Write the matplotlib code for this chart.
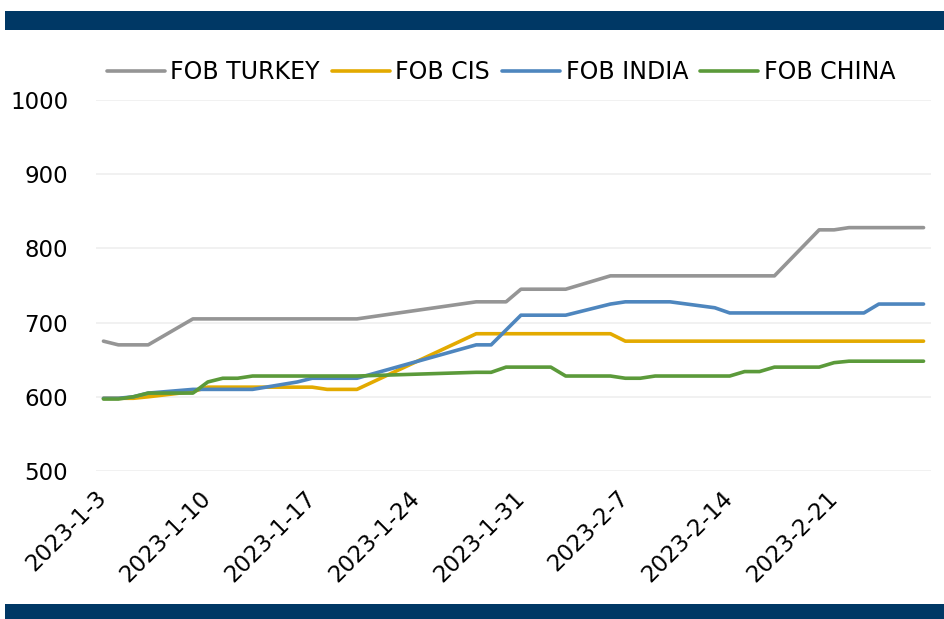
import matplotlib
matplotlib.use("Agg")
import matplotlib.pyplot as plt
import matplotlib.dates as mdates
from matplotlib.patches import Rectangle
import pandas as pd

dates = ["2023-01-03", "2023-01-04", "2023-01-05", "2023-01-06", "2023-01-09",
         "2023-01-10", "2023-01-11", "2023-01-12", "2023-01-13", "2023-01-16",
         "2023-01-17", "2023-01-18", "2023-01-19", "2023-01-20", "2023-01-28",
         "2023-01-29", "2023-01-30", "2023-01-31", "2023-02-01", "2023-02-02",
         "2023-02-03", "2023-02-06", "2023-02-07", "2023-02-08", "2023-02-09",
         "2023-02-10", "2023-02-13", "2023-02-14", "2023-02-15", "2023-02-16",
         "2023-02-17", "2023-02-20", "2023-02-21", "2023-02-22", "2023-02-23",
         "2023-02-24", "2023-02-27"]

fob_turkey = [675, 670, 670, 670, 705, 705, 705, 705, 705, 705, 705, 705, 705, 705,
              728, 728, 728, 745, 745, 745, 745, 763, 763, 763, 763, 763, 763, 763,
              763, 763, 763, 825, 825, 828, 828, 828, 828]
fob_cis = [598, 598, 598, 600, 607, 613, 613, 613, 613, 613, 613, 610, 610, 610,
           685, 685, 685, 685, 685, 685, 685, 685, 675, 675, 675, 675, 675, 675,
           675, 675, 675, 675, 675, 675, 675, 675, 675]
fob_india = [598, 598, 600, 605, 610, 610, 610, 610, 610, 620, 625, 625, 625, 625,
             670, 670, 690, 710, 710, 710, 710, 725, 728, 728, 728, 728, 720, 713,
             713, 713, 713, 713, 713, 713, 713, 725, 725]
fob_china = [597, 597, 600, 605, 605, 620, 625, 625, 628, 628, 628, 628, 628, 628,
             633, 633, 640, 640, 640, 640, 628, 628, 625, 625, 628, 628, 628, 628,
             634, 634, 640, 640, 646, 648, 648, 648, 648]

series_names = ["FOB TURKEY", "FOB CIS", "FOB INDIA", "FOB CHINA"]
series_colors = ["#959595", "#E3AA00", "#4E86BE", "#5B9A3A"]

tick_dates = ["2023-01-03", "2023-01-10", "2023-01-17", "2023-01-24",
              "2023-01-31", "2023-02-07", "2023-02-14", "2023-02-21"]
tick_labels = ["2023-1-3", "2023-1-10", "2023-1-17", "2023-1-24",
               "2023-1-31", "2023-2-7", "2023-2-14", "2023-2-21"]
y_ticks = [500, 600, 700, 800, 900, 1000]

plt.rcParams["font.family"] = ["DejaVu Sans"]

W, H = 944, 619
fig = plt.figure(figsize=(W / 100, H / 100), dpi=100)
fig.patch.set_facecolor("white")

ax = fig.add_axes([96 / W, 1 - 471 / H, (931 - 96) / W, (471 - 100) / H])

x = pd.to_datetime(dates)
handles = []
for vals, name, col in zip([fob_turkey, fob_cis, fob_india, fob_china],
                           series_names, series_colors):
    h, = ax.plot(x, vals, color=col, lw=2.6, label=name,
                 solid_capstyle="round", solid_joinstyle="round", zorder=3)
    handles.append(h)

ax.set_ylim(500, 1000)
ax.set_yticks(y_ticks)
ax.set_xlim(pd.Timestamp(dates[0]) - pd.Timedelta(hours=12),
            pd.Timestamp(dates[-1]) + pd.Timedelta(hours=12))
ax.set_xticks(pd.to_datetime(tick_dates))
ax.set_xticklabels(tick_labels, rotation=45, ha="right", va="center",
                   rotation_mode="anchor")

ax.grid(axis="y", color="#EFEFEF", lw=1.2, zorder=0)
ax.grid(axis="x", visible=False)
for s in ax.spines.values():
    s.set_visible(False)
ax.tick_params(axis="both", length=0, labelsize=16.5, colors="black")
ax.tick_params(axis="y", pad=20)
ax.tick_params(axis="x", pad=17)

fig.legend(handles=handles, loc="center", bbox_to_anchor=(501 / W, 1 - 72 / H),
           ncol=4, frameon=False, fontsize=17, handlelength=2.45,
           handletextpad=0.25, columnspacing=0.5, borderpad=0, borderaxespad=0)

navy = "#003865"
fig.add_artist(Rectangle((5 / W, 1 - 30 / H), 1, 19 / H, transform=fig.transFigure,
                         facecolor=navy, edgecolor="none"))
fig.add_artist(Rectangle((5 / W, 0), 1, 15 / H, transform=fig.transFigure,
                         facecolor=navy, edgecolor="none"))

fig.savefig("out.png", dpi=100)
